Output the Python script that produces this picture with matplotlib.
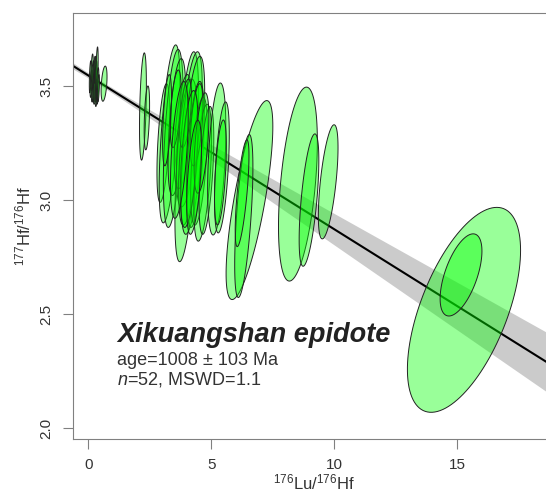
import matplotlib
matplotlib.use("Agg")
import matplotlib.pyplot as plt
import numpy as np

plt.rcParams['font.family'] = ['Liberation Sans', 'DejaVu Sans']
plt.rcParams['mathtext.fontset'] = 'custom'
plt.rcParams['mathtext.rm'] = 'Liberation Sans'
plt.rcParams['mathtext.it'] = 'Liberation Sans:italic'

# error ellipses: centre, 95% half extents, correlation
lu_hf = [0.08, 0.12, 0.15, 0.18, 0.20, 0.22, 0.25, 0.27, 0.29, 0.31, 0.33, 0.35, 0.38, 0.41,
         0.64, 2.22, 2.38,
         3.05, 3.30, 3.45, 3.60, 4.00, 3.85, 4.00, 4.15, 4.25, 4.35, 4.50, 4.65, 4.80,
         3.95, 4.40, 3.20, 4.10, 4.60, 3.55, 4.30, 3.70,
         5.22, 5.43, 5.37,
         6.55, 6.32, 6.25,
         8.52, 8.97, 9.75,
         15.27, 15.15]
hf_hf = [3.54, 3.51, 3.56, 3.52, 3.48, 3.55, 3.53, 3.50, 3.57, 3.52, 3.47, 3.555, 3.50, 3.49,
         3.51, 3.41, 3.36,
         3.25, 3.29, 3.27, 3.32, 3.19, 3.30, 3.25, 3.27, 3.24, 3.20, 3.17, 3.12, 3.13,
         3.38, 3.33, 3.35, 3.18, 3.25, 3.40, 3.10, 3.22,
         3.18, 3.143, 3.121,
         3.00, 2.93, 3.03,
         3.07, 3.00, 3.08,
         2.519, 2.672]
err_x = [0.04, 0.05, 0.05, 0.06, 0.04, 0.04, 0.05, 0.07, 0.04, 0.05, 0.05, 0.05, 0.05, 0.04,
         0.12, 0.14, 0.11,
         0.26, 0.42, 0.40, 0.36, 0.48, 0.36, 0.42, 0.48, 0.48, 0.36, 0.34, 0.36, 0.30,
         0.24, 0.26, 0.18, 0.36, 0.30, 0.22, 0.30, 0.36,
         0.37, 0.30, 0.24,
         0.95, 0.37, 0.28,
         0.79, 0.40, 0.40,
         2.30, 0.85]
err_y = [0.07, 0.06, 0.08, 0.09, 0.05, 0.06, 0.10, 0.08, 0.06, 0.09, 0.06, 0.116, 0.08, 0.06,
         0.077, 0.235, 0.14,
         0.26, 0.39, 0.39, 0.30, 0.46, 0.25, 0.28, 0.38, 0.39, 0.32, 0.28, 0.30, 0.28,
         0.15, 0.18, 0.20, 0.30, 0.22, 0.17, 0.25, 0.30,
         0.333, 0.287, 0.23,
         0.436, 0.357, 0.234,
         0.425, 0.29, 0.25,
         0.449, 0.18]
rho = [0.5] * 14 + [0.4, 0.4, 0.4] + [0.5, 0.6, 0.5, 0.5, 0.6, 0.5, 0.5, 0.6, 0.6, 0.5, 0.5, 0.5, 0.5,
       0.5, 0.5, 0.5, 0.5, 0.5, 0.5, 0.5, 0.5] + [0.4, 0.5, 0.5] + [0.74, 0.6, 0.7] \
    + [0.44, 0.6, 0.6] + [0.58, 0.58]

# isochron fit
intercept = 3.546
slope = -0.0674
band_x0 = 0.5
band_s0 = 0.011
band_sb = 0.00716

fig = plt.figure(figsize=(5.46, 4.94), dpi=100)
ax = fig.add_axes([0.1332, 0.1113, 0.8833, 0.8630])
ax.set_xlim(-0.634, 18.97)
ax.set_ylim(1.953, 3.821)

xx = np.linspace(-0.634, 18.97, 300)
yy = intercept + slope * xx
hw = np.sqrt(band_s0**2 + ((xx - band_x0) * band_sb)**2)
ax.fill_between(xx, yy - hw, yy + hw, color='#cbcbcb', lw=0, zorder=1)
ax.plot(xx, yy, color='black', lw=1.5, zorder=2)

t = np.linspace(0, 2 * np.pi, 120)
for cx, cy, ex, ey, r in zip(lu_hf, hf_hf, err_x, err_y, rho):
    px = cx + ex * np.cos(t)
    py = cy + ey * (r * np.cos(t) + np.sqrt(1 - r**2) * np.sin(t))
    ax.fill(px, py, facecolor=(0, 1, 0, 0.4), edgecolor='#222222', lw=0.7, zorder=3)

for s in ax.spines.values():
    s.set_color('#808080')
ax.set_xticks([0, 5, 10, 15])
ax.set_yticks([2.0, 2.5, 3.0, 3.5])
ax.set_yticklabels(['2.0', '2.5', '3.0', '3.5'])
ax.tick_params(axis='both', colors='#808080', labelcolor='#333333', length=7, labelsize=11)
ax.tick_params(axis='x', pad=7)
ax.tick_params(axis='y', pad=7, labelrotation=90)
for lab in ax.get_yticklabels():
    lab.set_va('center')

ax.set_xlabel(r'$^{176}$Lu/$^{176}$Hf', fontsize=12, color='#333333', labelpad=0)
ax.set_ylabel(r'$^{177}$Hf/$^{176}$Hf', fontsize=12, color='#333333', labelpad=4)

ax.text(1.17, 2.379, 'Xikuangshan epidote', fontsize=19.5, fontweight='bold', fontstyle='italic',
        color='#222222', va='baseline')
ax.text(1.17, 2.278, 'age=1008 \u00b1 103 Ma', fontsize=13, color='#333333', va='baseline')
ax.text(1.17, 2.19, r'$n$=52, MSWD=1.1', fontsize=13, color='#333333', va='baseline')

fig.savefig('out.png', dpi=100)
